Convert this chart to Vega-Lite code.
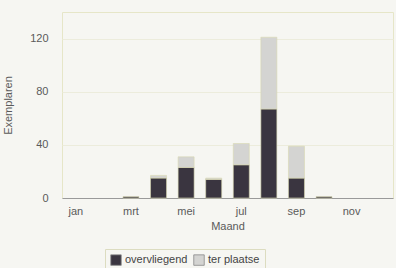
{
  "$schema": "https://vega.github.io/schema/vega-lite/v6.json",
  "autosize": "none",
  "width": 331,
  "height": 186,
  "padding": {"left": 62, "top": 12, "right": 3, "bottom": 70},
  "background": "#f6f6f2",
  "config": {
    "font": "Liberation Sans",
    "view": {"stroke": "#e6e6c8", "strokeWidth": 1}
  },
  "data": {
    "values": [
      {"maand": "mrt", "type": "overvliegend", "n": 1},
      {"maand": "apr", "type": "overvliegend", "n": 15},
      {"maand": "apr", "type": "ter plaatse", "n": 2},
      {"maand": "mei", "type": "overvliegend", "n": 23},
      {"maand": "mei", "type": "ter plaatse", "n": 8},
      {"maand": "jun", "type": "overvliegend", "n": 14},
      {"maand": "jun", "type": "ter plaatse", "n": 1},
      {"maand": "jul", "type": "overvliegend", "n": 25},
      {"maand": "jul", "type": "ter plaatse", "n": 16},
      {"maand": "aug", "type": "overvliegend", "n": 67},
      {"maand": "aug", "type": "ter plaatse", "n": 54},
      {"maand": "sep", "type": "overvliegend", "n": 15},
      {"maand": "sep", "type": "ter plaatse", "n": 24},
      {"maand": "okt", "type": "overvliegend", "n": 1}
    ]
  },
  "mark": {"type": "bar", "stroke": "#d8d8b0", "strokeWidth": 0.6},
  "encoding": {
    "x": {
      "field": "maand",
      "type": "ordinal",
      "scale": {"domain": ["jan","feb","mrt","apr","mei","jun","jul","aug","sep","okt","nov","dec"], "paddingInner": 0.42, "paddingOuter": 0.21},
      "title": "Maand",
      "axis": {
        "values": ["jan","mrt","mei","jul","sep","nov"],
        "labelAngle": 0,
        "ticks": false,
        "domainColor": "#9a9a9a",
        "labelColor": "#5a5a5a",
        "labelFontSize": 11,
        "labelPadding": 7,
        "titleColor": "#5a5a5a",
        "titleFontSize": 11,
        "titleFontWeight": "normal",
        "titlePadding": 4
      }
    },
    "y": {
      "field": "n",
      "type": "quantitative",
      "aggregate": "sum",
      "stack": "zero",
      "scale": {"domain": [0, 140], "nice": false},
      "title": "Exemplaren",
      "axis": {
        "values": [0, 40, 80, 120],
        "ticks": false,
        "domain": false,
        "grid": true,
        "gridColor": "#ececdc",
        "labelColor": "#5a5a5a",
        "labelFontSize": 11,
        "labelPadding": 14,
        "titleColor": "#5a5a5a",
        "titleFontSize": 11,
        "titleFontWeight": "normal",
        "titlePadding": 16
      }
    },
    "color": {
      "field": "type",
      "type": "nominal",
      "scale": {"domain": ["overvliegend", "ter plaatse"], "range": ["#3a3540", "#d4d4d2"]},
      "legend": {
        "title": null,
        "orient": "none",
        "direction": "horizontal",
        "legendX": 43,
        "legendY": 237,
        "symbolType": "square",
        "symbolSize": 110,
        "symbolStrokeColor": "#888888",
        "symbolStrokeWidth": 0.8,
        "labelColor": "#444444",
        "labelFontSize": 11,
        "columnPadding": 4,
        "labelOffset": 3,
        "strokeColor": "#dcdcc0",
        "padding": 5
      }
    },
    "order": {"field": "type", "sort": "ascending"}
  }
}
